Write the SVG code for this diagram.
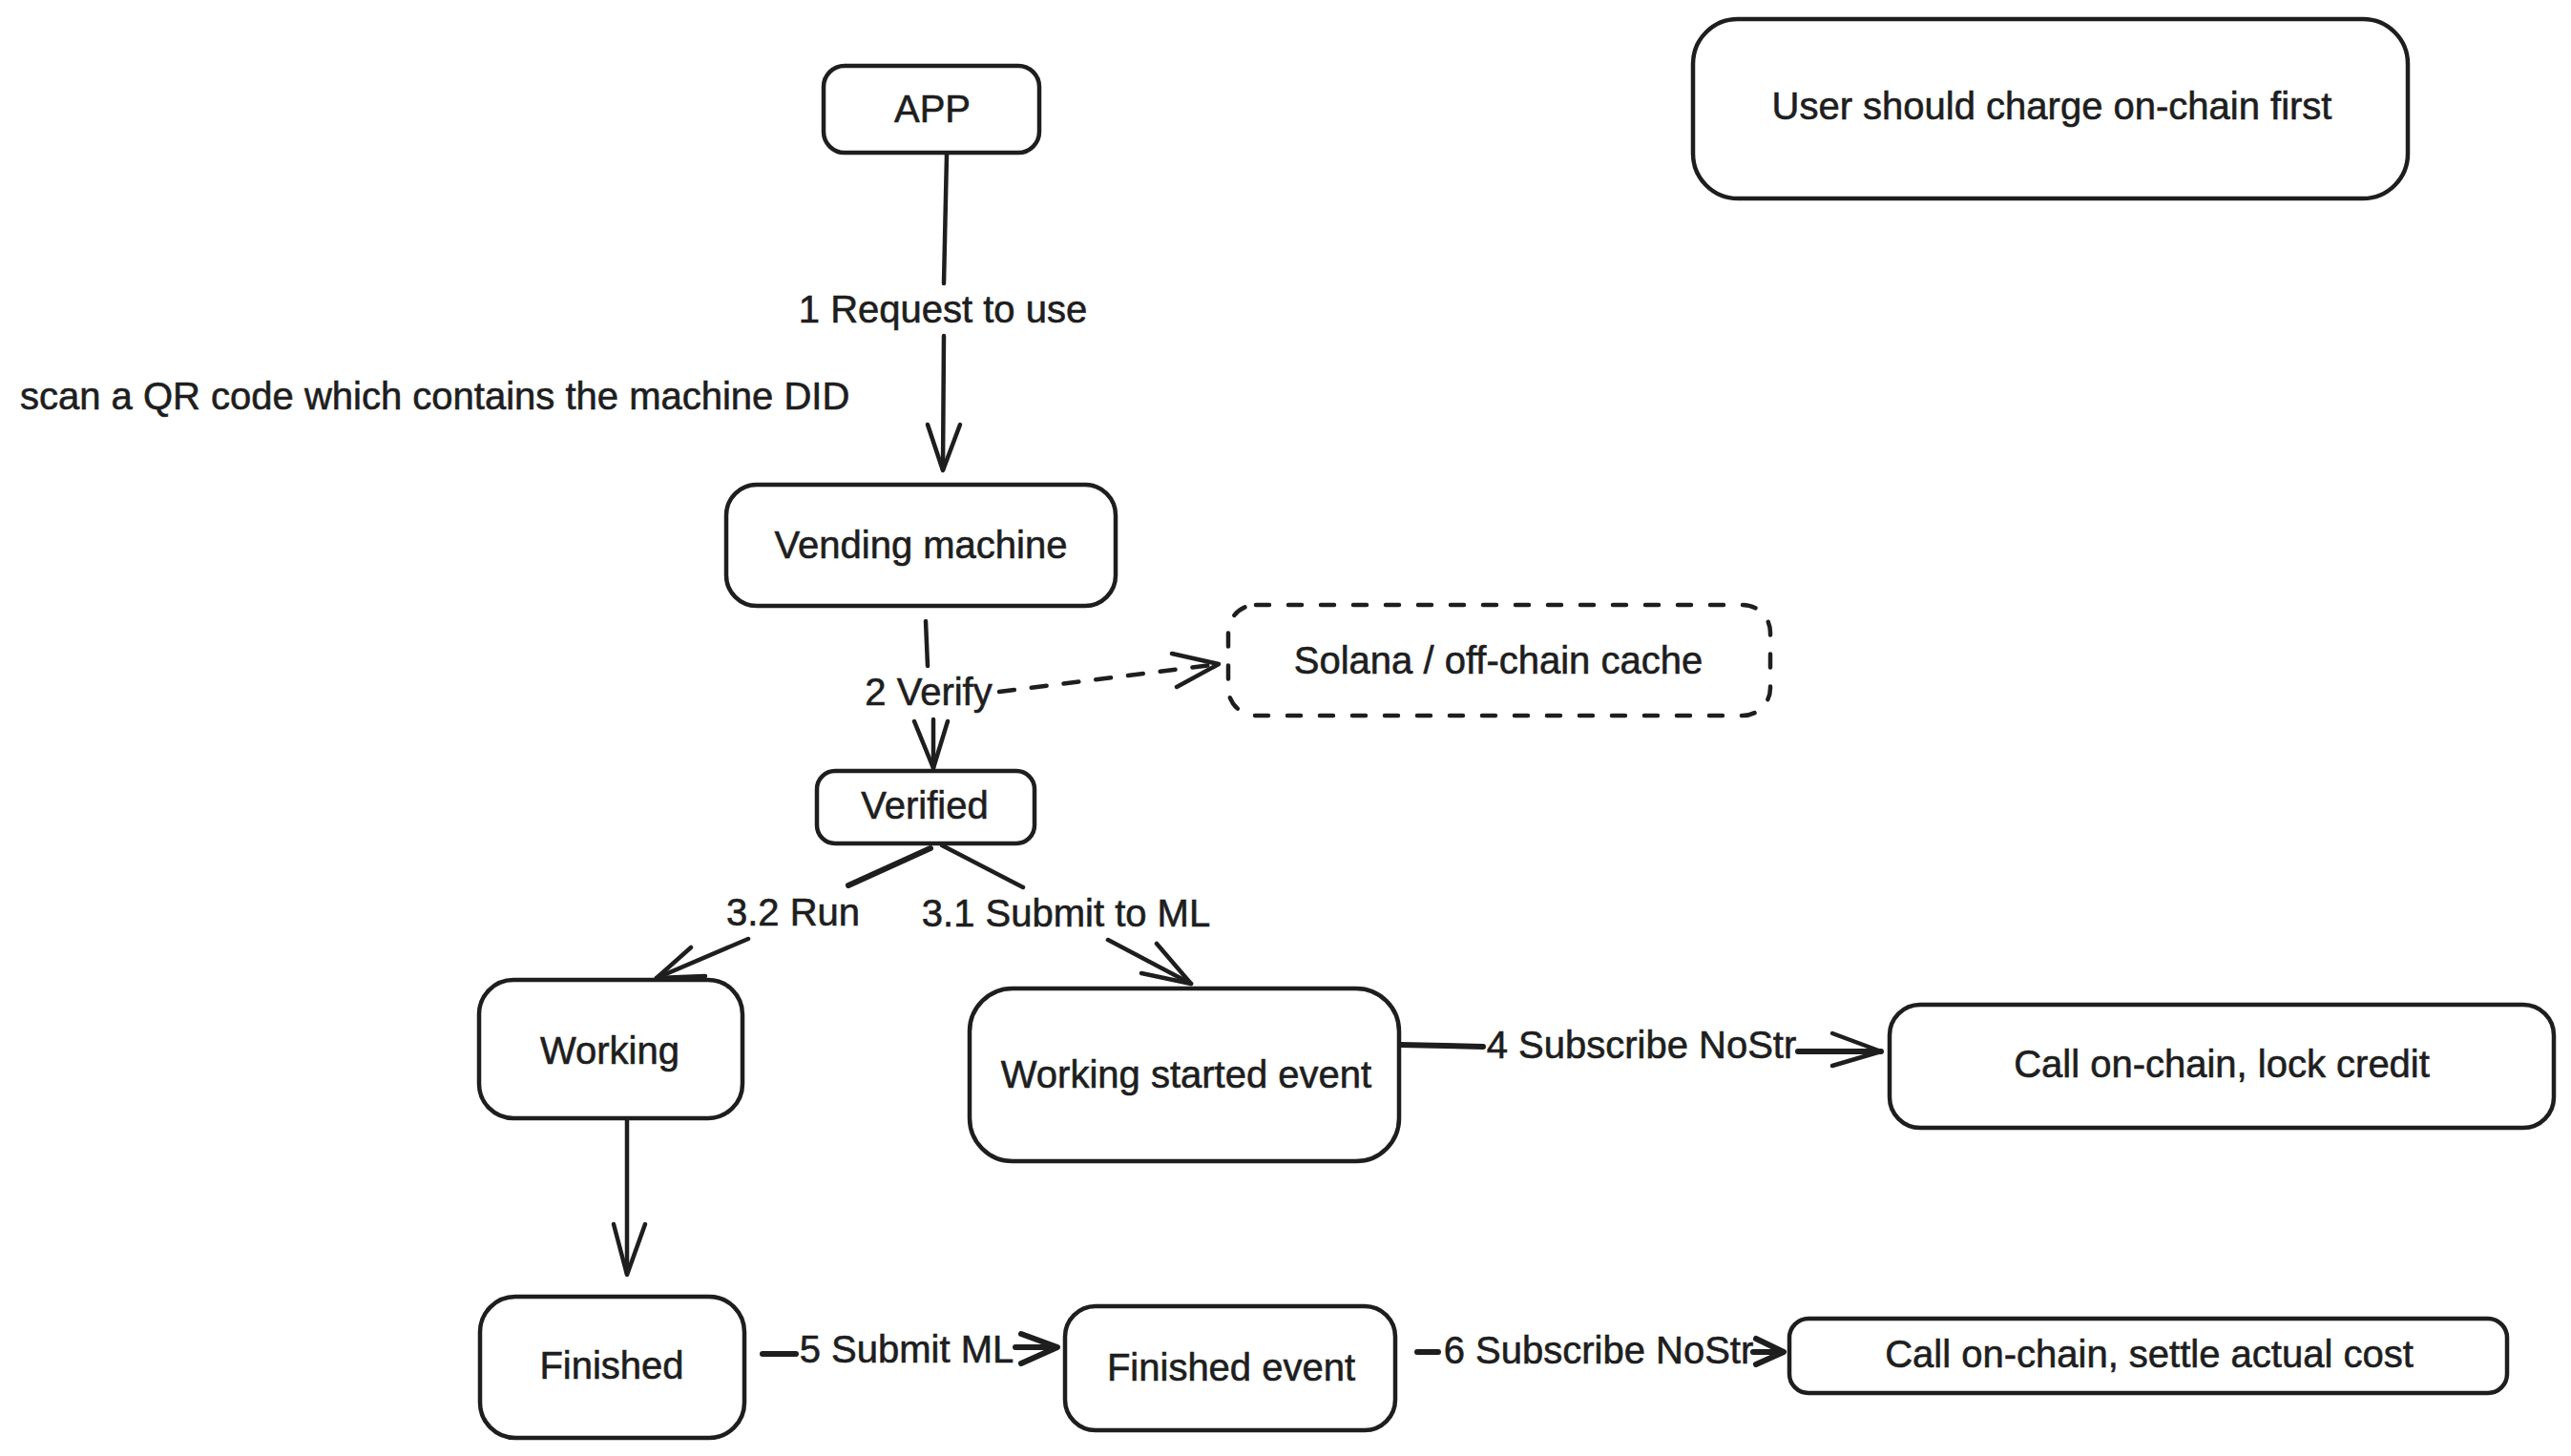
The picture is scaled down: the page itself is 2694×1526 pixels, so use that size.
<svg xmlns="http://www.w3.org/2000/svg" width="2694" height="1526" viewBox="0 0 2694 1526">
<style>
.bg{fill:#ffffff}
.box{fill:#ffffff;stroke:#1e1e1e;stroke-width:4.5}
.dashed{stroke-dasharray:14 20;stroke-linecap:round}
.t{font-family:"Liberation Sans",Arial,sans-serif;font-size:40px;fill:#1e1e1e;stroke:#1e1e1e;stroke-width:0.6}
.c{text-anchor:middle}
.ln{fill:none;stroke:#1e1e1e;stroke-width:4.5;stroke-linecap:round;stroke-linejoin:round}
.thick{stroke-width:6}
.dl{stroke-dasharray:16 18}
</style>
<rect class="bg" x="0" y="0" width="2694" height="1526"/>

<g id="connectors">
  <!-- 1 Request to use -->
  <path class="ln" d="M992,162 L989,297"/>
  <path class="ln" d="M989,352 L988,492"/>
  <path class="ln" d="M972,445 L988,493 L1006,445"/>
  <text class="t c" x="988" y="338">1 Request to use</text>

  <!-- 2 Verify -->
  <path class="ln" d="M970,651 L972,698"/>
  <path class="ln" d="M978,754 L978,805"/>
  <path class="ln" d="M958,756 L978,805 L993,756"/>
  <text class="t c" x="973" y="739">2 Verify</text>
  <path class="ln dl" d="M1047,725 L1277,696"/>
  <path class="ln" d="M1228,685 L1277,696 L1233,720"/>

  <!-- 3.2 Run -->
  <path class="ln thick" d="M975,889 L889,928"/>
  <path class="ln" d="M784,984 L688,1025"/>
  <path class="ln" d="M724,993 L688,1025 L739,1023"/>
  <text class="t c" x="831" y="970">3.2 Run</text>

  <!-- 3.1 Submit to ML -->
  <path class="ln" d="M987,886 L1072,930"/>
  <path class="ln" d="M1161,985 L1248,1031"/>
  <path class="ln" d="M1212,989 L1248,1031 L1196,1020"/>
  <text class="t c" x="1117" y="971">3.1 Submit to ML</text>

  <!-- Working -> Finished -->
  <path class="ln" d="M657,1174 L657,1335"/>
  <path class="ln" d="M643,1283 L657,1336 L676,1283"/>

  <!-- 4 Subscribe NoStr -->
  <path class="ln thick" d="M1467,1095 L1554,1097"/>
  <path class="ln thick" d="M1884,1102 L1971,1102"/>
  <path class="ln" d="M1920,1083 L1971,1102 L1920,1117"/>
  <text class="t c" x="1720" y="1109">4 Subscribe NoStr</text>

  <!-- 5 Submit ML -->
  <path class="ln thick" d="M799,1419 L834,1419"/>
  <path class="ln thick" d="M1064,1412 L1106,1412"/>
  <path class="ln thick" d="M1070,1398 L1108,1412 L1070,1429"/>
  <text class="t c" x="950" y="1428">5 Submit ML</text>

  <!-- 6 Subscribe NoStr -->
  <path class="ln thick" d="M1485,1417 L1507,1417"/>
  <path class="ln thick" d="M1837,1417 L1867,1417"/>
  <path class="ln thick" d="M1840,1403 L1869,1417 L1840,1430"/>
  <text class="t c" x="1675" y="1429">6 Subscribe NoStr</text>
</g>

<g id="node-app">
  <rect class="box" x="863" y="69" width="226" height="91" rx="22"/>
  <text class="t c" x="977" y="128">APP</text>
</g>
<g id="node-user-note">
  <rect class="box" x="1774" y="20" width="749" height="188" rx="47"/>
  <text class="t c" x="2150" y="125">User should charge on-chain first</text>
</g>
<g id="node-scan-note">
  <text class="t" x="21" y="429">scan a QR code which contains the machine DID</text>
</g>
<g id="node-vending">
  <rect class="box" x="761" y="508" width="408" height="127" rx="32"/>
  <text class="t c" x="965" y="585">Vending machine</text>
</g>
<g id="node-solana">
  <rect class="box dashed" x="1287" y="634" width="568" height="116" rx="29"/>
  <text class="t c" x="1570" y="706">Solana / off-chain cache</text>
</g>
<g id="node-verified">
  <rect class="box" x="856" y="808" width="228" height="76" rx="19"/>
  <text class="t c" x="969" y="858">Verified</text>
</g>
<g id="node-working">
  <rect class="box" x="502" y="1027" width="276" height="145" rx="36"/>
  <text class="t c" x="639" y="1115">Working</text>
</g>
<g id="node-working-started">
  <rect class="box" x="1016" y="1036" width="450" height="181" rx="45"/>
  <text class="t c" x="1243" y="1140">Working started event</text>
</g>
<g id="node-lock-credit">
  <rect class="box" x="1980" y="1053" width="696" height="129" rx="32"/>
  <text class="t c" x="2328" y="1129">Call on-chain, lock credit</text>
</g>
<g id="node-finished">
  <rect class="box" x="503" y="1359" width="277" height="148" rx="37"/>
  <text class="t c" x="641" y="1445">Finished</text>
</g>
<g id="node-finished-event">
  <rect class="box" x="1116" y="1369" width="346" height="130" rx="32"/>
  <text class="t c" x="1290" y="1447">Finished event</text>
</g>
<g id="node-settle">
  <rect class="box" x="1875" y="1382" width="752" height="78" rx="20"/>
  <text class="t c" x="2252" y="1433">Call on-chain, settle actual cost</text>
</g>
</svg>
